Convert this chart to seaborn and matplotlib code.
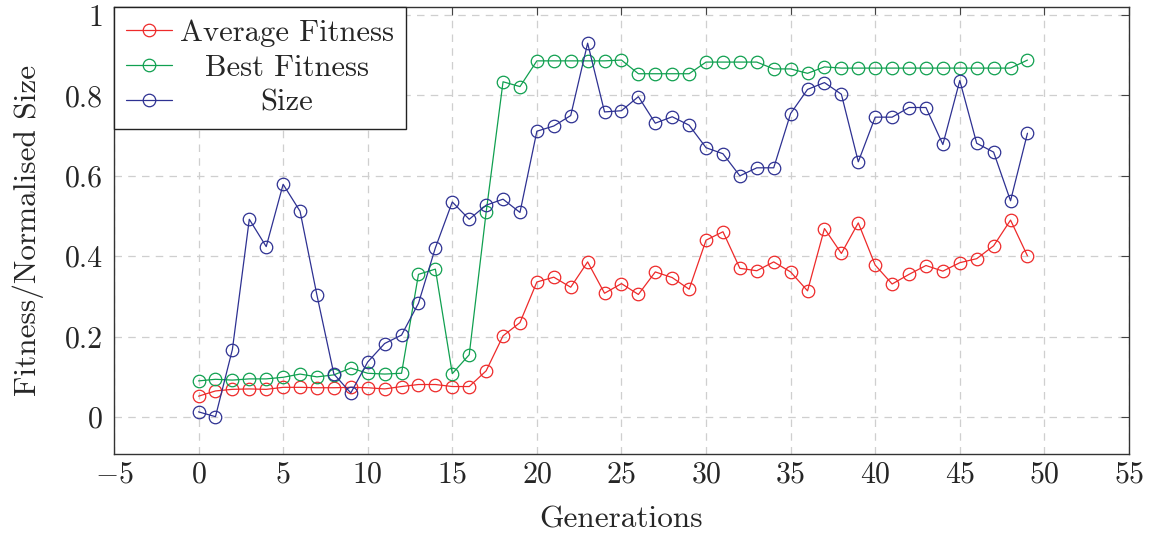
import numpy as np
import pandas as pd
import matplotlib
matplotlib.use("Agg")
import matplotlib.pyplot as plt
import seaborn as sns
from matplotlib.ticker import FixedLocator, FixedFormatter

generations = list(range(50))
avg_fitness = [0.052, 0.065, 0.069, 0.070, 0.069, 0.074, 0.074, 0.073, 0.073, 0.074,
               0.073, 0.070, 0.076, 0.081, 0.081, 0.076, 0.076, 0.115, 0.202, 0.235,
               0.336, 0.348, 0.323, 0.386, 0.308, 0.332, 0.305, 0.361, 0.347, 0.318,
               0.440, 0.461, 0.370, 0.364, 0.386, 0.361, 0.314, 0.469, 0.407, 0.483,
               0.378, 0.331, 0.355, 0.377, 0.363, 0.384, 0.394, 0.426, 0.490, 0.401]
best_fitness = [0.090, 0.094, 0.092, 0.095, 0.095, 0.099, 0.107, 0.100, 0.105, 0.122,
                0.109, 0.107, 0.109, 0.355, 0.368, 0.108, 0.155, 0.509, 0.834, 0.822,
                0.886, 0.886, 0.886, 0.886, 0.886, 0.888, 0.854, 0.854, 0.854, 0.854,
                0.883, 0.883, 0.883, 0.883, 0.866, 0.866, 0.855, 0.871, 0.868, 0.868,
                0.868, 0.868, 0.868, 0.868, 0.868, 0.868, 0.868, 0.868, 0.868, 0.888]
size = [0.013, 0.001, 0.168, 0.492, 0.424, 0.579, 0.512, 0.303, 0.107, 0.060,
        0.137, 0.183, 0.204, 0.283, 0.421, 0.535, 0.492, 0.527, 0.542, 0.509,
        0.711, 0.724, 0.750, 0.930, 0.759, 0.762, 0.797, 0.731, 0.747, 0.726,
        0.670, 0.655, 0.600, 0.620, 0.620, 0.755, 0.815, 0.832, 0.803, 0.635,
        0.746, 0.746, 0.770, 0.770, 0.678, 0.837, 0.681, 0.659, 0.538, 0.706]

series_names = ["Average Fitness", "Best Fitness", "Size"]
series_colors = ["#EE2A2A", "#10A050", "#2E3192"]
x_ticks = [-5, 0, 5, 10, 15, 20, 25, 30, 35, 40, 45, 50, 55]
y_ticks = [0, 0.2, 0.4, 0.6, 0.8, 1.0]
y_tick_labels = ["0", "0.2", "0.4", "0.6", "0.8", "1"]

sns.set_theme(style="white")
plt.rcParams["font.family"] = ["serif"]
plt.rcParams["font.serif"] = ["cmr10", "DejaVu Serif"]
plt.rcParams["mathtext.fontset"] = "cm"
plt.rcParams["axes.formatter.use_mathtext"] = True
plt.rcParams["axes.unicode_minus"] = True

df = pd.concat([
    pd.DataFrame({"gen": generations, "value": vals, "series": name})
    for name, vals in zip(series_names, [avg_fitness, best_fitness, size])
])

fig = plt.figure(figsize=(11.5, 5.38), dpi=100)
ax = fig.add_axes([0.0991, 0.156, 0.8826, 0.831])

for name, color in zip(series_names, series_colors):
    sub = df[df["series"] == name]
    sns.lineplot(data=sub, x="gen", y="value", ax=ax, color=color, marker="o",
                 markersize=9, markerfacecolor="none", markeredgecolor=color,
                 markeredgewidth=0.9, linewidth=0.9, label=name)

ax.set_xlim(-5, 55)
ax.set_ylim(-0.092, 1.02)
ax.xaxis.set_major_locator(FixedLocator(x_ticks))
ax.yaxis.set_major_locator(FixedLocator(y_ticks))
ax.yaxis.set_major_formatter(FixedFormatter(y_tick_labels))
ax.grid(True, color="#CFCFCF", linestyle=(0, (6, 5)), linewidth=0.9)
ax.set_axisbelow(True)
ax.tick_params(axis="both", which="major", direction="in", length=6, width=0.8,
               top=True, right=True, labelsize=21.5, color="#444444")
ax.tick_params(axis="x", pad=5)
ax.tick_params(axis="y", pad=8)
for sp in ax.spines.values():
    sp.set_color("#333333")
    sp.set_linewidth(1.0)

ax.set_xlabel("Generations", fontsize=22.5, labelpad=12)
ax.set_ylabel("Fitness/Normalised Size", fontsize=22.5, labelpad=15)

leg = ax.legend(loc="upper left", borderaxespad=0, fontsize=22, frameon=True,
                fancybox=False, edgecolor="#222222", framealpha=1,
                handlelength=1.5, handletextpad=0.25, labelspacing=0.25,
                borderpad=0.4)
leg.get_frame().set_linewidth(1.0)

# centre the legend labels within the text column, as in the reference
fig.canvas.draw()
renderer = fig.canvas.get_renderer()
texts = leg.get_texts()
widths = [t.get_window_extent(renderer).width for t in texts]
wmax = max(widths)
for t, w in zip(texts, widths):
    t.set_x((wmax - w) / 2.0)

fig.savefig("out.png", dpi=100)
